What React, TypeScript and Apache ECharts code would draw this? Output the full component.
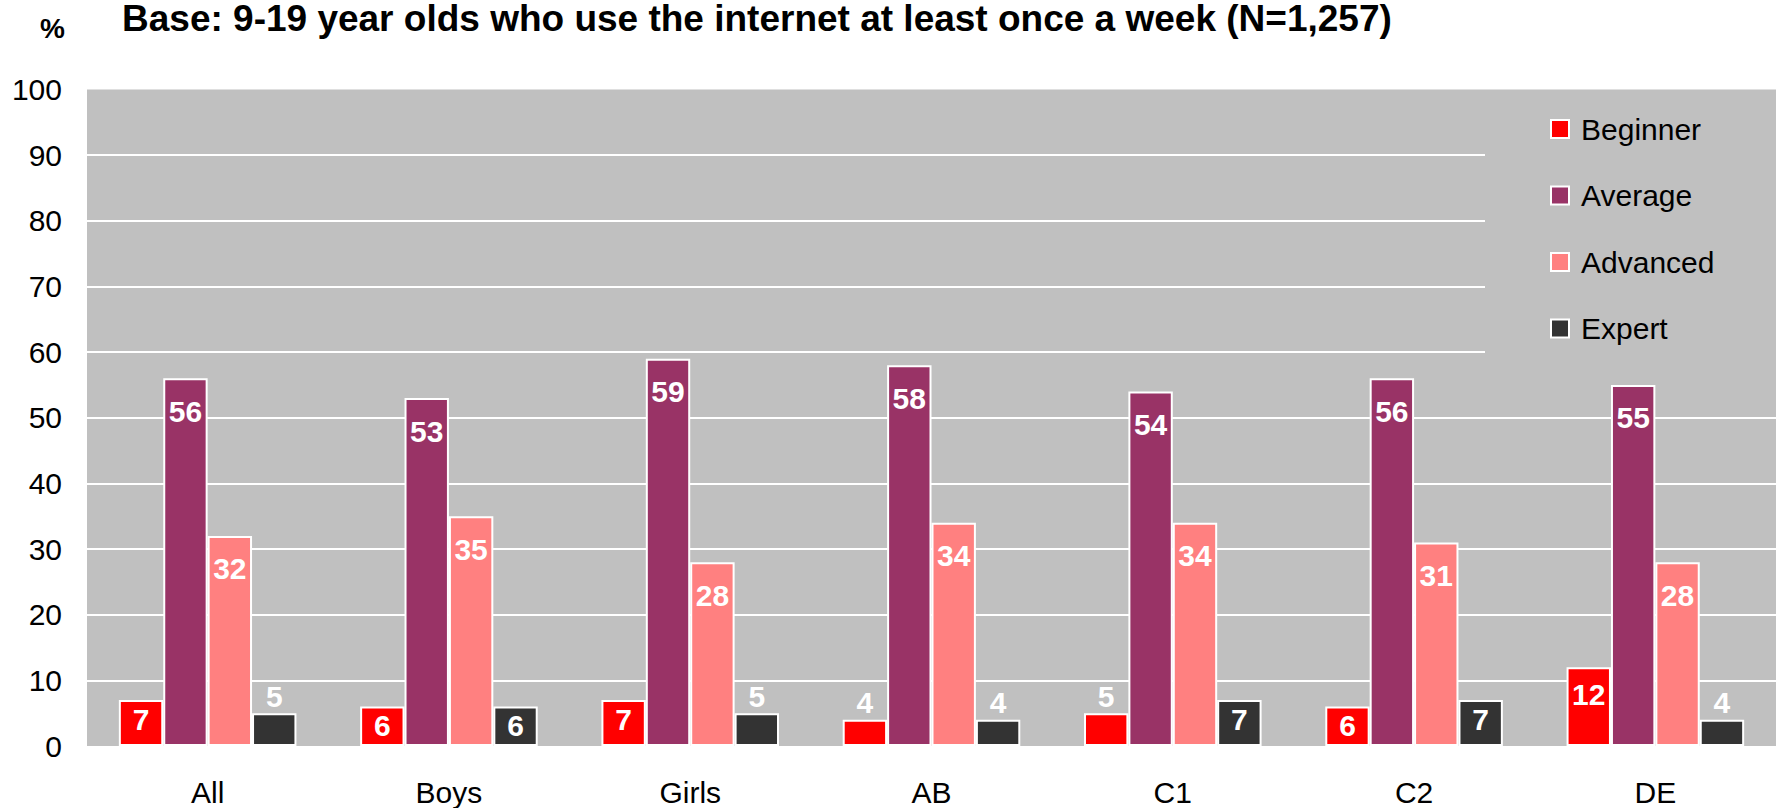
import React, { useEffect, useRef } from "react";
import * as echarts from "echarts";

const categories = ["All", "Boys", "Girls", "AB", "C1", "C2", "DE"];
const seriesNames = ["Beginner", "Average", "Advanced", "Expert"];
const beginner = [7, 6, 7, 4, 5, 6, 12];
const average = [56, 53, 59, 58, 54, 56, 55];
const advanced = [32, 35, 28, 34, 34, 31, 28];
const expert = [5, 6, 5, 4, 7, 7, 4];
const colors = ["#FF0000", "#993366", "#FF8080", "#333333"];
const yTicks = { min: 0, max: 100, interval: 10 };
const titleText = "Base: 9-19 year olds who use the internet at least once a week (N=1,257)";
const unitText = "%";

const FONT = "'Liberation Sans', Arial, sans-serif";

function labelFor(v: number) {
  if (v < 6) {
    return { position: "top", distance: 2 };
  }
  if (v < 10) return { position: "insideTop", distance: 4 };
  if (v < 20) return { position: "insideTop", distance: 12 };
  return { position: "insideTop", distance: 18 };
}

export default function App() {
  const ref = useRef<HTMLDivElement>(null);
  useEffect(() => {
    if (!ref.current) return;
    const chart = echarts.init(ref.current, null, { renderer: "svg" });
    const all = [beginner, average, advanced, expert];
    const option: any = {
      animation: false,
      backgroundColor: "#ffffff",
      textStyle: { fontFamily: FONT },
      title: [
        {
          text: titleText,
          left: 122,
          top: 0,
          padding: 0,
          textStyle: { fontFamily: FONT, fontSize: 37, fontWeight: "bold", color: "#000", lineHeight: 37 },
        },
        {
          text: unitText,
          left: 40,
          top: 14,
          padding: 0,
          textStyle: { fontFamily: FONT, fontSize: 28, fontWeight: "bold", color: "#000" },
        },
      ],
      grid: {
        left: 87,
        right: -8,
        top: 89.5,
        bottom: 62,
        show: true,
        backgroundColor: "#C0C0C0",
        borderWidth: 0,
      },
      legend: {
        orient: "vertical",
        left: 1485,
        top: 92,
        padding: [22, 80, 22, 65],
        backgroundColor: "#C0C0C0",
        itemWidth: 18,
        itemHeight: 18,
        itemGap: 36.5,
        icon: "rect",
        data: seriesNames,
        textStyle: { fontFamily: FONT, fontSize: 30, color: "#000", padding: [0, 0, 0, 7] },
      },
      xAxis: {
        type: "category",
        data: categories,
        axisLine: { show: false },
        axisTick: { show: false },
        axisLabel: { fontFamily: FONT, fontSize: 30, color: "#000", margin: 31 },
        splitLine: { show: false },
      },
      yAxis: {
        type: "value",
        min: yTicks.min,
        max: yTicks.max,
        interval: yTicks.interval,
        axisLine: { show: false },
        axisTick: { show: false },
        axisLabel: { fontFamily: FONT, fontSize: 30, color: "#000", margin: 25 },
        splitLine: {
          show: true,
          showMinLine: false,
          showMaxLine: false,
          lineStyle: { color: "#FFFFFF", width: 2 },
        },
      },
      series: seriesNames.map((name, i) => ({
        name,
        type: "bar",
        barGap: "0%",
        barCategoryGap: "26.4%",
        itemStyle: { color: colors[i], borderColor: "#FFFFFF", borderWidth: 2 },
        label: {
          show: true,
          color: "#FFFFFF",
          fontFamily: FONT,
          fontSize: 30,
          fontWeight: "bold",
        },
        data: all[i].map((v) => ({ value: v, label: labelFor(v) })),
      })),
    };
    chart.setOption(option);
    return () => chart.dispose();
  }, []);
  return (
    <div
      ref={ref}
      style={{ position: "fixed", left: 0, top: 0, width: 1776, height: 808 }}
    />
  );
}
